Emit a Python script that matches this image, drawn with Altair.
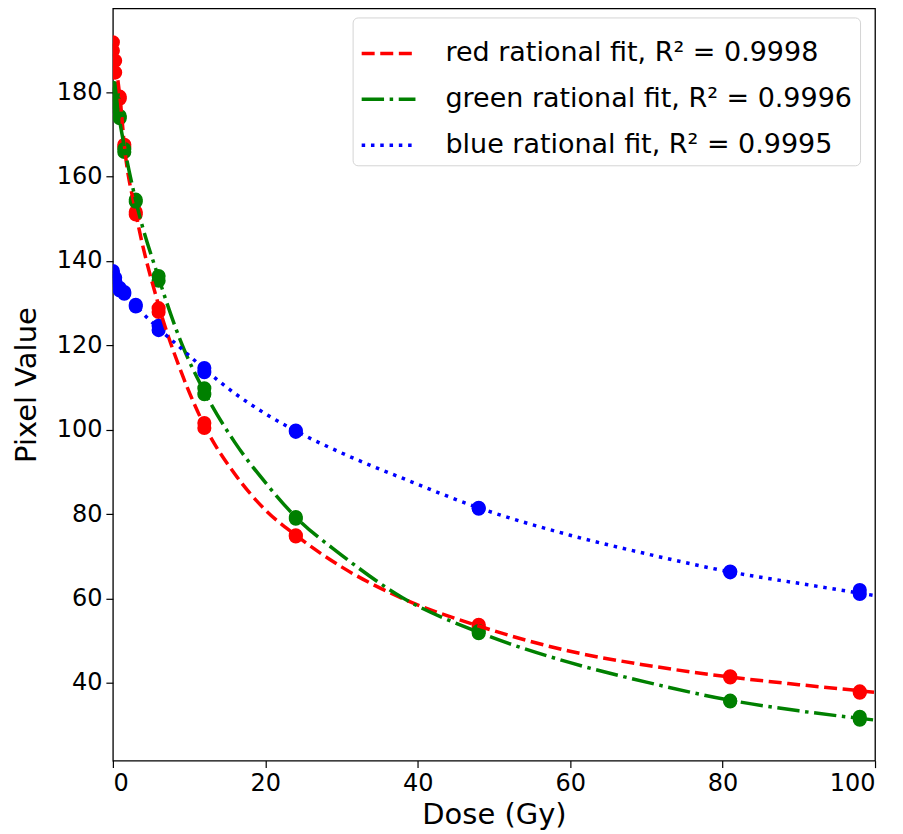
import altair as alt
import pandas as pd

dose_levels = [0, 0, 0.3, 0.3, 0.9, 0.9, 1.5, 1.5, 3, 3, 6, 6, 12, 12, 24, 24, 48, 48, 81, 81, 98, 98]
red_pts = [191.8, 189.8, 187.4, 184.6, 178.9, 178.4, 167.5, 167.0, 151.6, 151.0, 128.8, 127.9,
           101.6, 100.4, 75.0, 74.7, 53.8, 53.3, 41.6, 41.3, 38.0, 37.7]
green_pts = [181.0, 179.5, 177.5, 176.5, 174.3, 173.8, 166.5, 165.8, 154.5, 154.0, 136.4, 135.3,
             109.8, 108.4, 79.3, 78.9, 52.3, 51.8, 35.8, 35.6, 32.0, 31.3]
blue_pts = [137.6, 137.0, 136.0, 135.3, 133.6, 133.0, 132.6, 132.2, 129.6, 129.2, 124.6, 123.6,
            114.6, 113.6, 99.8, 99.5, 81.5, 81.3, 66.4, 66.2, 62.0, 61.1]

# ---- fitted curves ----
curve_x = [0, 0.5, 1, 1.5, 3, 6, 9, 12, 16, 20, 24, 30, 38, 48, 60, 70, 81, 90, 100]
red_fit = [191.5, 185.0, 177.5, 167.5, 151.5, 129.5, 113.5, 101.0, 89.5, 81.0, 75.0, 67.5, 60.0,
           53.5, 47.5, 44.2, 41.4, 39.6, 37.8]
green_fit = [181.0, 177.0, 172.0, 167.0, 154.3, 136.0, 120.5, 109.0, 97.0, 87.5, 79.3, 70.3, 60.2,
             52.0, 44.8, 40.2, 35.9, 33.4, 31.2]
blue_fit = [137.8, 136.2, 134.8, 133.3, 129.5, 124.0, 119.2, 114.4, 108.6, 103.8, 99.7, 94.5,
            88.5, 81.5, 75.0, 70.6, 66.3, 63.6, 60.7]

labels = ["red rational fit, R² = 0.9998",
          "green rational fit, R² = 0.9996",
          "blue rational fit, R² = 0.9995"]
colors = ["#ff0000", "#008000", "#0000ff"]
dashes = [[13, 5.6], [22.4, 5.6, 3.5, 5.6], [3.5, 5.8]]

pts_rows = []
for hexc, vals in zip(colors, [red_pts, green_pts, blue_pts]):
    for d, v in zip(dose_levels, vals):
        pts_rows.append({"dose": d, "value": v, "hex": hexc})
pts = pd.DataFrame(pts_rows)

line_rows = []
for lab, vals in zip(labels, [red_fit, green_fit, blue_fit]):
    for d, v in zip(curve_x, vals):
        line_rows.append({"dose": d, "value": v, "series": lab})
lines = pd.DataFrame(line_rows)

FONT = "DejaVu Sans"

xscale = alt.Scale(domain=[0, 100], nice=False, zero=False)
yscale = alt.Scale(domain=[21.6, 199.8], nice=False, zero=False)

xaxis = alt.Axis(title="Dose (Gy)", values=[0, 20, 40, 60, 80, 100], grid=False,
                 labelFontSize=24, titleFontSize=29, tickSize=7, labelPadding=4,
                 titlePadding=5, domain=False, tickColor="black", labelColor="black",
                 titleColor="black", tickWidth=1.2,
                 titleFontWeight="normal", labelFont=FONT, titleFont=FONT)
yaxis = alt.Axis(title="Pixel Value", values=[40, 60, 80, 100, 120, 140, 160, 180], grid=False,
                 labelFontSize=24, titleFontSize=29, tickSize=7, labelPadding=4,
                 titlePadding=15, domain=False, tickColor="black", labelColor="black",
                 titleColor="black", tickWidth=1.2,
                 titleFontWeight="normal", labelFont=FONT, titleFont=FONT)

points = alt.Chart(pts).mark_circle(size=200, opacity=1, clip=True).encode(
    x=alt.X("dose:Q", scale=xscale, axis=xaxis),
    y=alt.Y("value:Q", scale=yscale, axis=yaxis),
    color=alt.Color("hex:N", scale=None),
)

curves = alt.Chart(lines).mark_line(strokeWidth=3.5, clip=True, interpolate="monotone").encode(
    x=alt.X("dose:Q", scale=xscale),
    y=alt.Y("value:Q", scale=yscale),
    color=alt.Color("series:N", scale=alt.Scale(domain=labels, range=colors), sort=labels,
                    legend=alt.Legend(title=None, orient="none", legendX=240, legendY=9,
                                      symbolType="stroke", symbolStrokeWidth=3.5,
                                      symbolSize=2900, labelFontSize=27, labelFont=FONT,
                                      labelColor="black", labelLimit=700,
                                      fillColor="white", strokeColor="#d4d4d4",
                                      cornerRadius=5, padding=7, rowPadding=4,
                                      labelOffset=28)),
    strokeDash=alt.StrokeDash("series:N", scale=alt.Scale(domain=labels, range=dashes),
                              sort=labels, legend=alt.Legend(title=None)),
)

chart = alt.layer(points, curves).properties(
    width=763, height=753,
    autosize=alt.AutoSizeParams(type="none"),
    padding={"left": 105, "top": 0, "right": 20, "bottom": 70},
).configure_view(stroke="black", strokeWidth=1.3)

chart.save("out.html", embed_options={"renderer": "svg", "actions": False})
